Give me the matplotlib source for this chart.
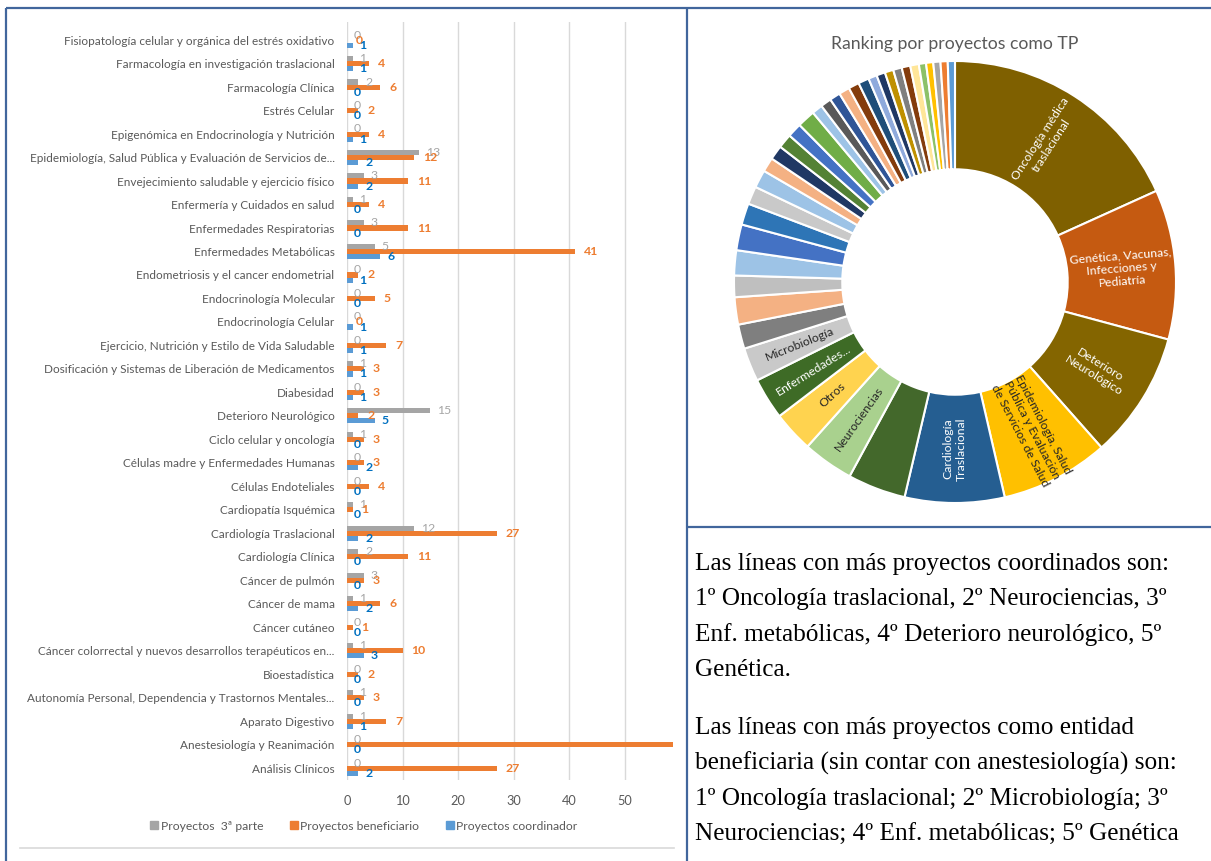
import matplotlib
matplotlib.use('Agg')
import matplotlib.pyplot as plt
from matplotlib.lines import Line2D
import numpy as np

# ---------------- Bar chart data (bottom -> top) ----------------
categories = [
    "Análisis Clínicos",
    "Anestesiología y Reanimación",
    "Aparato Digestivo",
    "Autonomía Personal, Dependencia y Trastornos Mentales...",
    "Bioestadística",
    "Cáncer colorrectal y nuevos desarrollos terapéuticos en...",
    "Cáncer cutáneo",
    "Cáncer de mama",
    "Cáncer de pulmón",
    "Cardiología Clínica",
    "Cardiología Traslacional",
    "Cardiopatía Isquémica",
    "Células Endoteliales",
    "Células madre y Enfermedades Humanas",
    "Ciclo celular y oncología",
    "Deterioro Neurológico",
    "Diabesidad",
    "Dosificación y Sistemas de Liberación de Medicamentos",
    "Ejercicio, Nutrición y Estilo de Vida Saludable",
    "Endocrinología Celular",
    "Endocrinología Molecular",
    "Endometriosis y el cancer endometrial",
    "Enfermedades Metabólicas",
    "Enfermedades Respiratorias",
    "Enfermería y Cuidados en salud",
    "Envejecimiento saludable y ejercicio físico",
    "Epidemiología, Salud Pública y Evaluación de Servicios de...",
    "Epigenómica en Endocrinología y Nutrición",
    "Estrés Celular",
    "Farmacología Clínica",
    "Farmacología en investigación traslacional",
    "Fisiopatología celular y orgánica del estrés oxidativo",
]
tercera = [0, 0, 1, 1, 0, 1, 0, 1, 3, 2, 12, 1, 0, 0, 1, 15, 0, 1, 0, 0, 0, 0, 5, 3, 1, 3, 13, 0, 0, 2, 1, 0]
beneficiario = [27, 62, 7, 3, 2, 10, 1, 6, 3, 11, 27, 1, 4, 3, 3, 2, 3, 3, 7, 0, 5, 2, 41, 11, 4, 11, 12, 4, 2, 6, 4, 0]
coordinador = [2, 0, 1, 0, 0, 3, 0, 2, 0, 0, 2, 0, 0, 2, 0, 5, 1, 1, 1, 1, 0, 1, 6, 0, 0, 2, 2, 1, 0, 0, 1, 1]
series_names = ["Proyectos  3ª parte", "Proyectos beneficiario", "Proyectos coordinador"]
x_ticks = [0, 10, 20, 30, 40, 50]

# ---------------- Donut data (clockwise from top) ----------------
donut_labels = [
    "Oncología médica\ntraslacional",
    "Genética, Vacunas,\nInfecciones y\nPediatría",
    "Deterioro\nNeurológico",
    "Epidemiología, Salud\nPública y Evaluación\nde Servicios de Salud",
    "Cardiología\nTraslacional",
    "",
    "Neurociencias",
    "Otros",
    "Enfermedades...",
    "Microbiología",
] + [""] * 30
donut_values = [34.8, 20.9, 17.7, 15.1, 13.9, 8.1, 7.1, 5.7, 5.8, 4.7,
                3.4, 3.8, 3.0, 3.5, 3.6,
                3.0, 2.5, 2.5, 2.0, 2.0, 2.0, 2.0, 2.5,
                1.5, 1.5, 1.5, 1.5, 1.5, 1.5,
                1.2, 1.2, 1.2, 1.2, 1.2, 1.2,
                1.0, 1.0, 1.0, 1.0, 1.0]
donut_colors = ['#7F6000', '#C55A11', '#846500', '#FFC000', '#255E91', '#43682B',
                '#A9D18E', '#FFD34F', '#3E6B26', '#C9C9C9',
                '#7F7F7F', '#F4B183', '#BFBFBF', '#9DC3E6', '#4472C4',
                '#2E75B6', '#C9C9C9', '#9DC3E6', '#F4B183', '#203864', '#548235', '#4472C4', '#70AD47',
                '#9DC3E6', '#595959', '#2F5597', '#F4B183', '#843C0C', '#1F4E79',
                '#8FAADC', '#203864', '#BF9000', '#7F7F7F', '#843C0C', '#FFE699',
                '#8CC168', '#FFC000', '#A5A5A5', '#ED7D31', '#5B9BD5']
donut_text_colors = ['white', 'white', 'white', '#262626', 'white', 'white',
                     '#262626', '#262626', 'white', '#262626'] + ['white'] * 30
donut_title = "Ranking por proyectos como TP"

text_lines_1 = ["Las líneas con más proyectos coordinados son:",
                "1º Oncología traslacional, 2º Neurociencias, 3º",
                "Enf. metabólicas, 4º Deterioro neurológico, 5º",
                "Genética."]
text_lines_2 = ["Las líneas con más proyectos como entidad",
                "beneficiaria (sin contar con anestesiología) son:",
                "1º Oncología traslacional; 2º Microbiología; 3º",
                "Neurociencias; 4º Enf. metabólicas; 5º Genética"]

# ---------------- Figure ----------------
W, H = 1211, 861
fig = plt.figure(figsize=(W / 100, H / 100), dpi=100)
fig.patch.set_facecolor('white')


def fx(px):
    return px / W


def fy(py):
    return 1 - py / H


FONT = 'Lato'
TXT = '#595959'

# Bar chart
ax = fig.add_axes([fx(347), fy(780), fx(673) - fx(347), fy(22) - fy(780)])
y = np.arange(len(categories))
bh = 0.215
bar_colors = ['#A5A5A5', '#ED7D31', '#5B9BD5']
label_colors = ['#A5A5A5', '#ED7D31', '#0070C0']
label_weights = ['normal', 'bold', 'bold']
label_offsets = [5, 6.5, 5]
for vals, off, col, lcol, lw_, lo in zip([tercera, beneficiario, coordinador], [bh, 0, -bh],
                                         bar_colors, label_colors, label_weights, label_offsets):
    ax.barh(y + off, vals, height=bh, color=col, zorder=2)
    for yi, v in zip(y, vals):
        ax.annotate(str(v), (v, yi + off), xytext=(lo, 0), textcoords='offset points',
                    ha='left', va='center', color=lcol, fontsize=8.8, fontweight=lw_,
                    family=FONT, zorder=3)

ax.set_xlim(0, 58.7)
ax.set_ylim(-0.5, 31.77)
ax.set_xticks(x_ticks)
ax.set_yticks(y)
ax.set_yticklabels(categories, family=FONT, fontsize=8.5, color=TXT)
for lab in ax.get_xticklabels():
    lab.set_family(FONT)
ax.tick_params(axis='x', length=0, labelsize=9.2, labelcolor=TXT, pad=11)
ax.tick_params(axis='y', length=0, pad=9)
ax.grid(axis='x', color='#D9D9D9', lw=1.0, zorder=0)
ax.set_axisbelow(True)
for s in ax.spines.values():
    s.set_visible(False)

handles = [Line2D([], [], marker='s', linestyle='none', markersize=6, color=c) for c in bar_colors]
fig.legend(handles, series_names, loc='center', bbox_to_anchor=(fx(363), fy(826)), ncol=3,
           frameon=False, handletextpad=0.05, columnspacing=2.0, handlelength=1.0,
           prop={'family': FONT, 'size': 8.7}, labelcolor=TXT)

# bottom gray line of chart
fig.add_artist(Line2D([fx(20), fx(674)], [fy(848), fy(848)], transform=fig.transFigure,
                      color='#D9D9D9', lw=1.2))

# Donut
cx, cy, R = 955, 282, 221
axd = fig.add_axes([fx(cx - R), fy(cy + R), 2 * R / W, 2 * R / H])
wedges, _ = axd.pie(donut_values, colors=donut_colors, startangle=90, counterclock=False,
                    radius=1.0, wedgeprops=dict(width=0.49, edgecolor='white', linewidth=1.5))
axd.set_xlim(-1, 1)
axd.set_ylim(-1, 1)
axd.set_aspect('equal')
axd.axis('off')
for w, lab, tc in zip(wedges, donut_labels, donut_text_colors):
    if not lab:
        continue
    mid = (w.theta1 + w.theta2) / 2.0
    r = 0.755
    xx, yy = r * np.cos(np.radians(mid)), r * np.sin(np.radians(mid))
    rot = ((mid + 180) % 360) - 180
    if rot > 90:
        rot -= 180
    elif rot < -90:
        rot += 180
    axd.text(xx, yy, lab, rotation=rot, rotation_mode='anchor', ha='center', va='center',
             color=tc, fontsize=8.8, family=FONT, linespacing=1.2)

fig.text(fx(955), fy(44), donut_title, ha='center', va='center', fontsize=12.7,
         color=TXT, family=FONT)

# Right-side text
SERIF = 'Liberation Serif'
for i, line in enumerate(text_lines_1):
    fig.text(fx(695), fy(564 + i * 35.5), line, ha='left', va='center', fontsize=18.2,
             family=SERIF, color='black')
for i, line in enumerate(text_lines_2):
    fig.text(fx(695), fy(728 + i * 35.5), line, ha='left', va='center', fontsize=18.2,
             family=SERIF, color='black')

# Table borders
BL = '#41669C'
kw = dict(transform=fig.transFigure, color=BL, lw=1.6, solid_capstyle='butt')
fig.add_artist(Line2D([fx(6), 1], [fy(8), fy(8)], **kw))
fig.add_artist(Line2D([fx(6), fx(6)], [fy(8), 0], **kw))
fig.add_artist(Line2D([fx(687), fx(687)], [fy(8), 0], **kw))
fig.add_artist(Line2D([fx(687), 1], [fy(527), fy(527)], **kw))

fig.savefig('out.png', dpi=100, facecolor='white')
